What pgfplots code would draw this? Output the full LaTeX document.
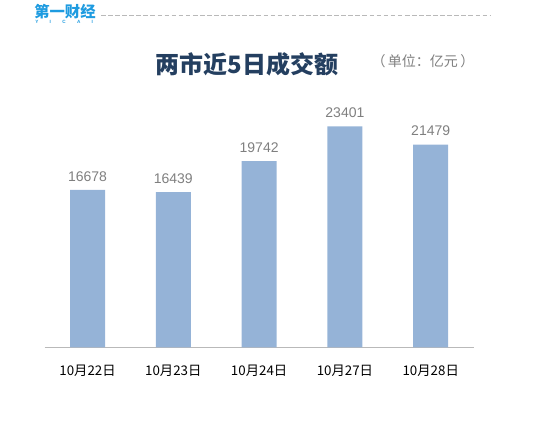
\documentclass[border=0pt]{standalone}
\usepackage{fontspec}
\setmainfont{Liberation Sans}
\newfontfamily\cjk{Noto Sans CJK SC}
\usepackage{pgfplots}
\pgfplotsset{compat=1.18}
\definecolor{barblue}{HTML}{95B3D7}
\definecolor{titlenavy}{HTML}{243F60}
\definecolor{labgray}{HTML}{7F7F7F}
\definecolor{logoblue}{HTML}{1E9BE0}
\begin{document}
\begin{tikzpicture}[x=0.75pt,y=0.75pt]
\path[use as bounding box] (0,0) rectangle (547,421);
% logo
\node[anchor=west,inner sep=0,text=logoblue,font=\cjk\bfseries\fontsize{11.5}{11.5}\selectfont] at (34,409) {第一财经};
\node[anchor=west,inner sep=0,text=logoblue,font=\bfseries\fontsize{3.5}{4}\selectfont] at (35,399.5) {Y\hspace{8.5pt}I\hspace{8.5pt}C\hspace{8.5pt}A\hspace{8.5pt}I};
\draw[gray!55,dash pattern=on 3.5pt off 1.8pt,line width=0.6pt] (101,406) -- (490,406);
% title
\node[text=titlenavy,font=\cjk\bfseries\fontsize{18}{18}\selectfont,inner sep=0] at (247,357) {两市近5日成交额};
\node[text=labgray,font=\cjk\fontsize{10.5}{10.5}\selectfont,inner sep=0] at (423,360) {（\,单位：亿元\,）};
\begin{axis}[
  at={(52,78)}, anchor=south west,
  scale only axis,
  width=321.75pt, height=177pt,
  xmin=-0.5, xmax=4.5, ymin=0, ymax=25000,
  ybar, bar width=26.25pt,
  axis x line=bottom, axis y line=none,
  axis line style={draw=gray!55,line width=0.8pt,-},
  xtick=data,
  xticklabels={10月22日,10月23日,10月24日,10月27日,10月28日},
  x tick label style={font=\cjk\fontsize{10}{10}\selectfont,text=black,yshift=-10pt},
  major tick length=0pt,
  nodes near coords,
  every node near coord/.append style={font=\fontsize{10.5}{10.5}\selectfont,text=labgray,yshift=3pt},
  point meta=explicit symbolic,
]
\addplot[fill=barblue,draw=none] coordinates {
 (0,16678) [16678]
 (1,16439) [16439]
 (2,19742) [19742]
 (3,23401) [23401]
 (4,21479) [21479]
};
\end{axis}
\end{tikzpicture}
\end{document}
